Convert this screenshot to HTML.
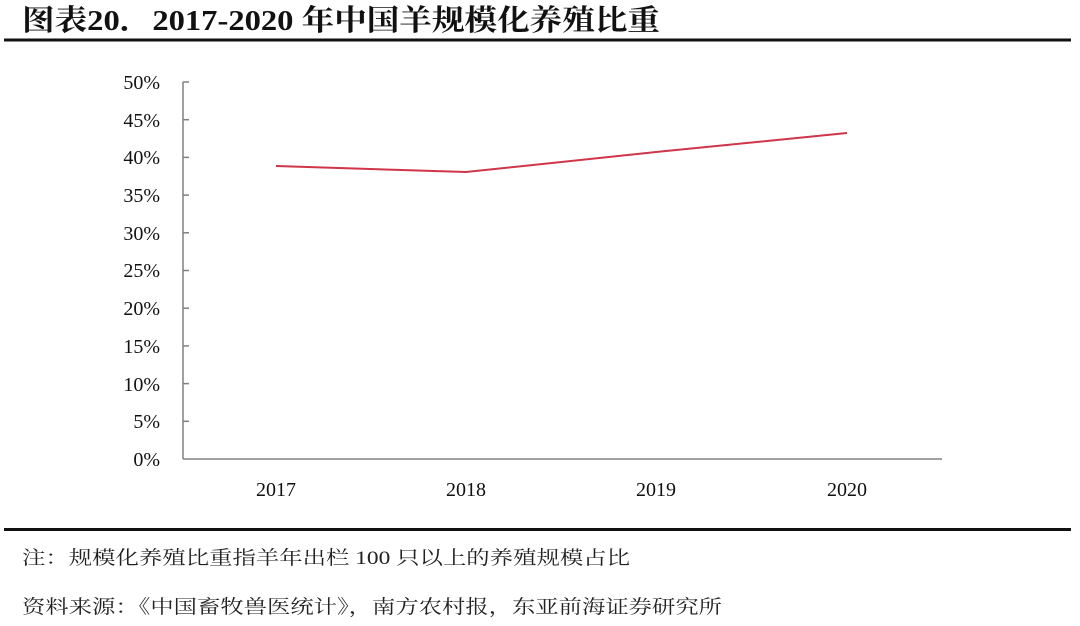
<!DOCTYPE html>
<html><head><meta charset="utf-8"><style>
body{margin:0;background:#fff;width:1080px;height:621px;overflow:hidden}
</style></head><body>
<svg width="1080" height="621" xmlns="http://www.w3.org/2000/svg">
<text x="22" y="30" textLength="638" lengthAdjust="spacingAndGlyphs" font-family="'Liberation Serif','Noto Serif CJK SC',serif" font-weight="bold" font-size="29" fill="#111">图表20．2017-2020 年中国羊规模化养殖比重</text>
<rect x="4" y="38.5" width="1067" height="3" fill="#111"/>
<g stroke="#808080" stroke-width="1.5" fill="none">
<line x1="183" y1="82" x2="183" y2="459"/>
<line x1="183" y1="459" x2="942" y2="459"/>
<g>
<line x1="183" y1="82" x2="189" y2="82"/><line x1="183" y1="119.7" x2="189" y2="119.7"/><line x1="183" y1="157.4" x2="189" y2="157.4"/><line x1="183" y1="195.1" x2="189" y2="195.1"/><line x1="183" y1="232.8" x2="189" y2="232.8"/><line x1="183" y1="270.5" x2="189" y2="270.5"/><line x1="183" y1="308.2" x2="189" y2="308.2"/><line x1="183" y1="345.9" x2="189" y2="345.9"/><line x1="183" y1="383.6" x2="189" y2="383.6"/><line x1="183" y1="421.3" x2="189" y2="421.3"/>
</g>
</g>
<g font-family="'Liberation Serif',serif" font-size="20" fill="#111" text-anchor="end">
<text x="160" y="89">50%</text><text x="160" y="127">45%</text><text x="160" y="164">40%</text><text x="160" y="202">35%</text><text x="160" y="240">30%</text><text x="160" y="277">25%</text><text x="160" y="315">20%</text><text x="160" y="353">15%</text><text x="160" y="391">10%</text><text x="160" y="428">5%</text><text x="160" y="466">0%</text>
</g>
<g font-family="'Liberation Serif',serif" font-size="20" fill="#111" text-anchor="middle">
<text x="276" y="496">2017</text><text x="466" y="496">2018</text><text x="656" y="496">2019</text><text x="847" y="496">2020</text>
</g>
<polyline points="276,166 466,172 656,152 847,133" fill="none" stroke="#d0354a" stroke-width="2"/>
<rect x="4" y="528" width="1067" height="3" fill="#111"/>
<text x="22" y="564" textLength="608" lengthAdjust="spacingAndGlyphs" font-family="'Liberation Serif','Noto Serif CJK SC',serif" font-size="19" fill="#222">注：规模化养殖比重指羊年出栏 100 只以上的养殖规模占比</text>
<text x="22" y="613" textLength="700" lengthAdjust="spacingAndGlyphs" font-family="'Liberation Serif','Noto Serif CJK SC',serif" font-size="19" fill="#222">资料来源：《中国畜牧兽医统计》，南方农村报，东亚前海证券研究所</text>
</svg>
</body></html>
